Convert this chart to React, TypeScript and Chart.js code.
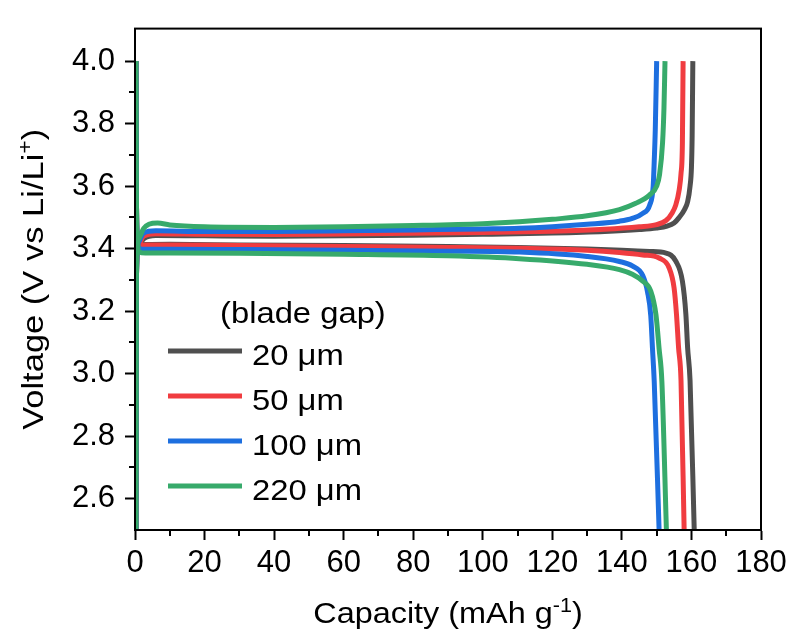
import React, { useEffect, useRef } from 'react';
import { Chart, registerables } from 'chart.js';

Chart.register(...registerables);

// ---- series meta ----
const SERIES_LABELS = ['20 μm', '50 μm', '100 μm', '220 μm'];
const SERIES_COLORS = ['#4f4f4f', '#f03c40', '#1d6fdf', '#37aa6b'];
const LEGEND_TITLE = '(blade gap)';

// ---- charge curves (capacity mAh/g, voltage V) ----
const CHG_CAP_20 = [0.3, 0.4, 1, 2.5, 6, 20, 40, 60, 80, 100, 120, 135, 145, 150, 153, 155, 156.5, 158, 158.9, 159.6, 160, 160.2, 160.4];
const CHG_V_20 = [2.5, 3.3, 3.41, 3.432, 3.442, 3.441, 3.44, 3.441, 3.443, 3.446, 3.45, 3.455, 3.461, 3.466, 3.472, 3.482, 3.5, 3.525, 3.55, 3.6, 3.66, 3.76, 4.0];

const CHG_CAP_50 = [0.3, 0.4, 1, 2.5, 6, 20, 40, 60, 80, 100, 120, 135, 145, 150, 152.7, 154.5, 155.5, 156.5, 157, 157.4, 157.6];
const CHG_V_50 = [2.5, 3.3, 3.41, 3.44, 3.448, 3.446, 3.445, 3.447, 3.449, 3.452, 3.456, 3.462, 3.47, 3.477, 3.49, 3.515, 3.54, 3.59, 3.64, 3.74, 4.0];

const CHG_CAP_100 = [0.3, 0.4, 1, 2.5, 6, 20, 40, 60, 80, 100, 110.5, 120, 130, 139.3, 143, 146, 148, 149, 149.3, 149.6, 150];
const CHG_V_100 = [2.5, 3.3, 3.42, 3.45, 3.457, 3.455, 3.455, 3.457, 3.46, 3.463, 3.465, 3.47, 3.478, 3.488, 3.497, 3.513, 3.54, 3.6, 3.68, 3.78, 4.0];

const CHG_CAP_220 = [0.3, 0.4, 1, 2.5, 4, 6.5, 10, 20, 40, 60, 80, 100, 110.5, 120, 130, 139.3, 144, 148, 150, 150.8, 151.7, 152.1, 152.4];
const CHG_V_220 = [2.5, 3.3, 3.43, 3.465, 3.478, 3.482, 3.476, 3.47, 3.468, 3.47, 3.474, 3.48, 3.486, 3.494, 3.505, 3.525, 3.545, 3.572, 3.6, 3.635, 3.74, 3.85, 4.0];

// ---- discharge curves ----
const DIS_CAP_20 = [0.3, 0.4, 0.6, 1.2, 3, 10, 30, 60, 90, 110, 130, 140, 148, 152.7, 155.5, 157.4, 158.4, 158.9, 159.6, 160.8];
const DIS_V_20 = [4.0, 3.6, 3.45, 3.412, 3.413, 3.414, 3.412, 3.41, 3.407, 3.404, 3.399, 3.395, 3.391, 3.386, 3.36, 3.296, 3.19, 3.083, 2.978, 2.5];

const DIS_CAP_50 = [0.3, 0.4, 0.6, 1.2, 3, 10, 30, 60, 90, 110.5, 130, 139.3, 146, 150.7, 153.6, 155, 155.7, 156.3, 157, 157.9];
const DIS_V_50 = [4.0, 3.6, 3.45, 3.41, 3.412, 3.412, 3.41, 3.407, 3.404, 3.401, 3.395, 3.388, 3.38, 3.37, 3.338, 3.275, 3.19, 3.083, 2.978, 2.5];

const DIS_CAP_100 = [0.3, 0.4, 0.6, 1.2, 3, 10, 30, 60, 90, 110.5, 130, 139.3, 143, 146, 147.4, 148.3, 148.8, 149.3, 150.7];
const DIS_V_100 = [4.0, 3.6, 3.45, 3.4, 3.398, 3.398, 3.397, 3.395, 3.392, 3.389, 3.375, 3.359, 3.345, 3.314, 3.26, 3.186, 3.08, 2.975, 2.5];

const DIS_CAP_220 = [0.3, 0.4, 0.6, 1.2, 3, 10, 30, 60, 90, 110.5, 130, 139.3, 143, 146, 148.3, 149.8, 150.7, 151.5, 152.8];
const DIS_V_220 = [4.0, 3.6, 3.45, 3.39, 3.386, 3.386, 3.385, 3.382, 3.377, 3.368, 3.35, 3.333, 3.318, 3.296, 3.264, 3.188, 3.08, 2.975, 2.5];

// ---- axes ----
const X_TICKS = [0, 20, 40, 60, 80, 100, 120, 140, 160, 180];
const X_MINOR = [10, 30, 50, 70, 90, 110, 130, 150, 170];
const Y_TICKS = [2.6, 2.8, 3.0, 3.2, 3.4, 3.6, 3.8, 4.0];
const Y_MINOR = [2.7, 2.9, 3.1, 3.3, 3.5, 3.7, 3.9];
const X_MIN = 0;
const X_MAX = 180;
const Y_MIN = 2.5;
const Y_MAX = 4.104;

const CHARGE = [
  [CHG_CAP_20, CHG_V_20],
  [CHG_CAP_50, CHG_V_50],
  [CHG_CAP_100, CHG_V_100],
  [CHG_CAP_220, CHG_V_220],
];
const DISCHARGE = [
  [DIS_CAP_20, DIS_V_20],
  [DIS_CAP_50, DIS_V_50],
  [DIS_CAP_100, DIS_V_100],
  [DIS_CAP_220, DIS_V_220],
];

const FONT = "'Liberation Sans', Arial, Helvetica, sans-serif";

type Seg = { text: string; size: number; rise: number };

function drawRich(ctx: CanvasRenderingContext2D, segs: Seg[], cx: number, baseY: number, sx: number, align = 'center') {
  let total = 0;
  const widths = segs.map((s) => {
    ctx.font = `${s.size}px ${FONT}`;
    const w = ctx.measureText(s.text).width;
    total += w;
    return w;
  });
  ctx.save();
  ctx.translate(cx, baseY);
  ctx.scale(sx, 1);
  let x = align === 'center' ? -total / 2 : 0;
  ctx.textBaseline = 'alphabetic';
  ctx.textAlign = 'left';
  segs.forEach((s, i) => {
    ctx.font = `${s.size}px ${FONT}`;
    ctx.fillText(s.text, x, -s.rise);
    x += widths[i];
  });
  ctx.restore();
}

const decorPlugin = {
  id: 'decor',
  afterDraw(chart: any) {
    const { ctx, chartArea: a, scales } = chart;
    ctx.save();
    ctx.strokeStyle = '#000';
    ctx.lineWidth = 2;
    ctx.strokeRect(a.left, a.top, a.right - a.left, a.bottom - a.top);
    ctx.beginPath();
    for (const v of X_MINOR) {
      const px = Math.round(scales.x.getPixelForValue(v));
      ctx.moveTo(px, a.bottom);
      ctx.lineTo(px, a.bottom + 6);
    }
    for (const v of Y_MINOR) {
      const py = Math.round(scales.y.getPixelForValue(v));
      ctx.moveTo(a.left, py);
      ctx.lineTo(a.left - 6, py);
    }
    ctx.stroke();

    ctx.fillStyle = '#000';
    // x title
    drawRich(
      ctx,
      [
        { text: 'Capacity (mAh g', size: 30, rise: 0 },
        { text: '-1', size: 20, rise: 11 },
        { text: ')', size: 30, rise: 0 },
      ],
      (a.left + a.right) / 2,
      623,
      1.08
    );
    // y title
    ctx.save();
    ctx.translate(43, (a.top + a.bottom) / 2);
    ctx.rotate(-Math.PI / 2);
    drawRich(
      ctx,
      [
        { text: 'Voltage (V vs Li/Li', size: 30, rise: 0 },
        { text: '+', size: 20, rise: 11 },
        { text: ')', size: 30, rise: 0 },
      ],
      0,
      0,
      1.15
    );
    ctx.restore();

    // legend
    drawRich(ctx, [{ text: LEGEND_TITLE, size: 29, rise: 0 }], 220, 323, 1.13, 'left');
    SERIES_LABELS.forEach((lab, i) => {
      const y = 351 + i * 45;
      ctx.strokeStyle = SERIES_COLORS[i];
      ctx.lineWidth = 5;
      ctx.beginPath();
      ctx.moveTo(168, y);
      ctx.lineTo(242, y);
      ctx.stroke();
      ctx.fillStyle = '#000';
      drawRich(ctx, [{ text: lab, size: 29, rise: 0 }], 252, y + 14, 1.13, 'left');
    });
    ctx.restore();
  },
};

export default function App() {
  const ref = useRef<HTMLCanvasElement>(null);
  useEffect(() => {
    const canvas = ref.current;
    if (!canvas) return;
    const datasets: any[] = [];
    SERIES_LABELS.forEach((lab, i) => {
      const order = SERIES_LABELS.length - 1 - i;
      const [cx, cv] = CHARGE[i];
      const [dx, dv] = DISCHARGE[i];
      datasets.push({
        label: lab + ' charge',
        data: cx.map((x, k) => ({ x, y: cv[k] })),
        borderColor: SERIES_COLORS[i],
        borderWidth: 5,
        pointRadius: 0,
        fill: false,
        cubicInterpolationMode: 'monotone',
        order,
      });
      datasets.push({
        label: lab + ' discharge',
        data: dx.map((x, k) => ({ x, y: dv[k] })),
        borderColor: SERIES_COLORS[i],
        borderWidth: 5,
        pointRadius: 0,
        fill: false,
        cubicInterpolationMode: 'monotone',
        order,
      });
    });

    const tickFont = { family: FONT, size: 31 };
    const chart = new Chart(canvas, {
      type: 'line',
      data: { datasets },
      plugins: [decorPlugin],
      options: {
        animation: false,
        responsive: false,
        devicePixelRatio: 1,
        layout: { padding: { top: 25, right: 34, left: 0, bottom: 0 } },
        plugins: { legend: { display: false }, tooltip: { enabled: false } },
        scales: {
          x: {
            type: 'linear',
            min: X_MIN,
            max: X_MAX,
            afterBuildTicks: (s: any) => {
              s.ticks = X_TICKS.map((v) => ({ value: v }));
            },
            afterFit: (s: any) => {
              s.height = 108;
            },
            ticks: {
              color: '#000',
              font: tickFont,
              padding: 5,
              maxRotation: 0,
              autoSkip: false,
              callback: (v: any) => String(v),
            },
            grid: { drawOnChartArea: false, drawTicks: true, tickLength: 10, tickWidth: 2, tickColor: '#000' },
            border: { display: true, color: '#000', width: 2 },
            title: { display: false },
          },
          y: {
            type: 'linear',
            min: Y_MIN,
            max: Y_MAX,
            afterBuildTicks: (s: any) => {
              s.ticks = Y_TICKS.map((v) => ({ value: v }));
            },
            afterFit: (s: any) => {
              s.width = 135;
            },
            ticks: {
              color: '#000',
              font: tickFont,
              padding: 10,
              autoSkip: false,
              callback: (v: any) => Number(v).toFixed(1),
            },
            grid: { drawOnChartArea: false, drawTicks: true, tickLength: 10, tickWidth: 2, tickColor: '#000' },
            border: { display: true, color: '#000', width: 2 },
            title: { display: false },
          },
        },
      },
    } as any);
    return () => chart.destroy();
  }, []);

  return (
    <div style={{ position: 'fixed', left: 0, top: 0, width: 795, height: 638, background: '#fff' }}>
      <canvas ref={ref} width={795} height={638} style={{ display: 'block', width: 795, height: 638 }} />
    </div>
  );
}
